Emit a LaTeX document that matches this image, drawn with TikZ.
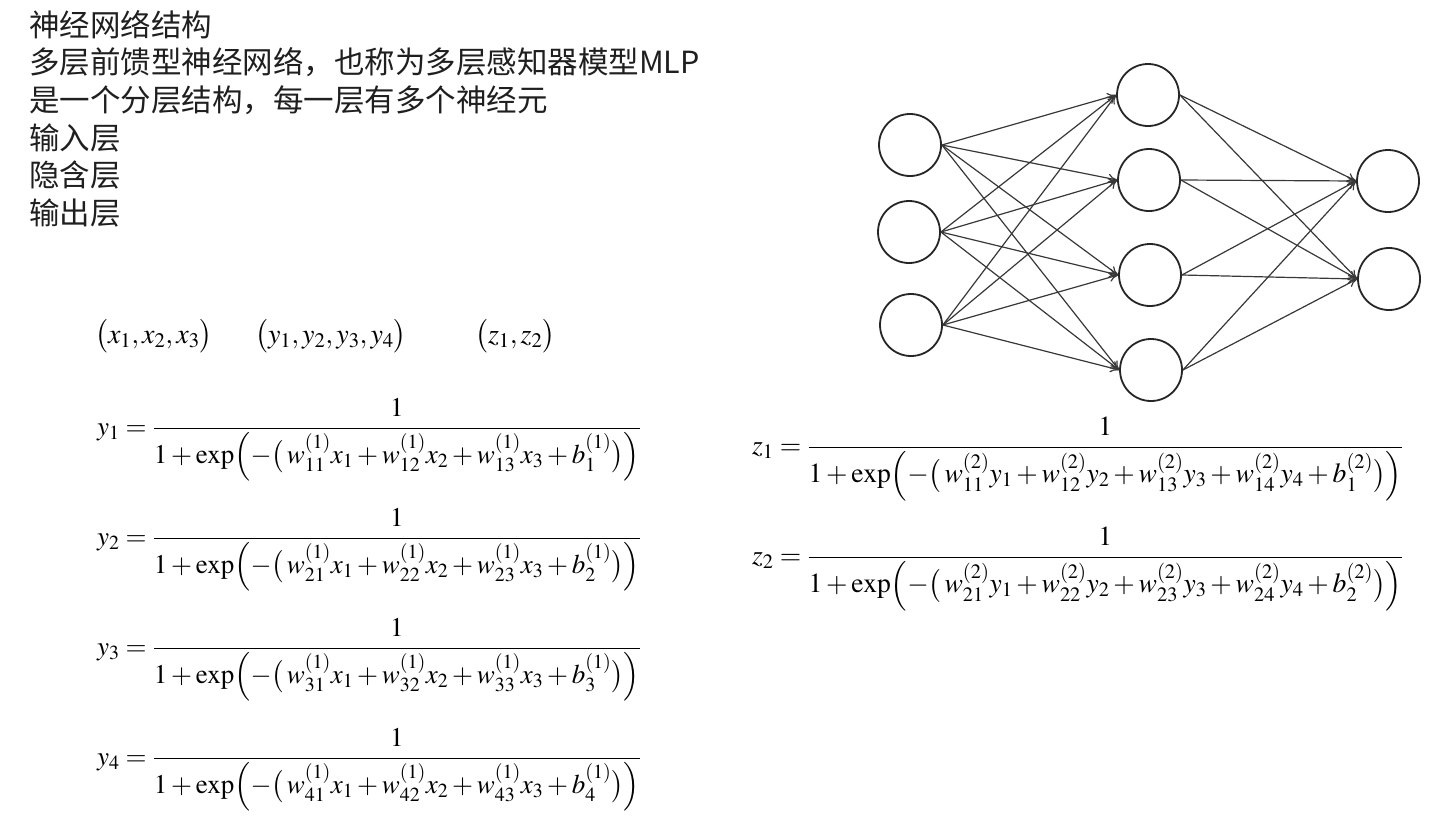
\documentclass[tikz,border=0pt]{standalone}
\usepackage{amsmath}
\usepackage{mathptmx}
\usepackage[no-math]{fontspec}
\newfontfamily\cjk{Noto Sans CJK SC}
\usetikzlibrary{arrows.meta}
\begin{document}
\begin{tikzpicture}[x=1pt,y=-1pt,
  neuron/.style={circle,draw=black!85,line width=1.8pt,minimum size=62pt,inner sep=0pt},
  conn/.style={draw=black!78,line width=1.2pt,-{To[length=9pt,width=9pt]}},
  cjktext/.style={anchor=base west,inner sep=0pt,font=\cjk\fontsize{30.5}{36}\selectfont,text=black!88},
  eq/.style={anchor=base west,inner sep=0pt,font=\fontsize{28}{34}\selectfont},
  eqy/.style={eq,font=\fontsize{27}{33}\selectfont},
  eqz/.style={eq,font=\fontsize{27.6}{33}\selectfont}]
\useasboundingbox[fill=white] (0,0) rectangle (1455,819);

% text lines
\node[cjktext] (t1) at (29,36) {神经网络结构};
\node[cjktext] (t2) at (29,73.5) {多层前馈型神经网络，也称为多层感知器模型MLP};
\node[cjktext] (t3) at (29,111) {是一个分层结构，每一层有多个神经元};
\node[cjktext] (t4) at (29,149) {输入层};
\node[cjktext] (t5) at (29,186.5) {隐含层};
\node[cjktext] (t6) at (29,224) {输出层};

% tuples
\node[eq] (tx) at (95,343) {$\bigl(x_1,x_2,x_3\bigr)$};
\node[eq] (ty) at (255,343) {$\bigl(y_1,y_2,y_3,y_4\bigr)$};
\node[eq] (tz) at (475,343) {$\bigl(z_1,z_2\bigr)$};

% hidden-layer equations
\node[eqy] (ey1) at (97,435) {$\displaystyle y_1=\frac{1}{1+\exp\Bigl(-\bigl(\,w_{11}^{(1)}x_1+w_{12}^{(1)}x_2+w_{13}^{(1)}x_3+b_1^{(1)}\bigr)\Bigr)}$};
\node[eqy] (ey2) at (97,545) {$\displaystyle y_2=\frac{1}{1+\exp\Bigl(-\bigl(\,w_{21}^{(1)}x_1+w_{22}^{(1)}x_2+w_{23}^{(1)}x_3+b_2^{(1)}\bigr)\Bigr)}$};
\node[eqy] (ey3) at (97,655) {$\displaystyle y_3=\frac{1}{1+\exp\Bigl(-\bigl(\,w_{31}^{(1)}x_1+w_{32}^{(1)}x_2+w_{33}^{(1)}x_3+b_3^{(1)}\bigr)\Bigr)}$};
\node[eqy] (ey4) at (97,765) {$\displaystyle y_4=\frac{1}{1+\exp\Bigl(-\bigl(\,w_{41}^{(1)}x_1+w_{42}^{(1)}x_2+w_{43}^{(1)}x_3+b_4^{(1)}\bigr)\Bigr)}$};

% output-layer equations
\node[eqz] (ez1) at (752,454) {$\displaystyle z_1=\frac{1}{1+\exp\Bigl(-\bigl(\,w_{11}^{(2)}y_1+w_{12}^{(2)}y_2+w_{13}^{(2)}y_3+w_{14}^{(2)}y_4+b_1^{(2)}\bigr)\Bigr)}$};
\node[eqz] (ez2) at (752,564) {$\displaystyle z_2=\frac{1}{1+\exp\Bigl(-\bigl(\,w_{21}^{(2)}y_1+w_{22}^{(2)}y_2+w_{23}^{(2)}y_3+w_{24}^{(2)}y_4+b_2^{(2)}\bigr)\Bigr)}$};

% network
\node[neuron] (i1) at (910,145) {};
\node[neuron] (i2) at (909,232) {};
\node[neuron] (i3) at (911,325) {};
\node[neuron] (h1) at (1148,95) {};
\node[neuron] (h2) at (1149,180) {};
\node[neuron] (h3) at (1150,275) {};
\node[neuron] (h4) at (1151,370) {};
\node[neuron] (o1) at (1388,181) {};
\node[neuron] (o2) at (1389,279) {};

\foreach \i in {1,2,3}{
  \foreach \h in {1,2,3,4}{
    \draw[conn] (i\i.east) -- (h\h.west);
  }
}
\foreach \h in {1,2,3,4}{
  \foreach \o in {1,2}{
    \draw[conn] (h\h.east) -- (o\o.west);
  }
}
\end{tikzpicture}
\end{document}
